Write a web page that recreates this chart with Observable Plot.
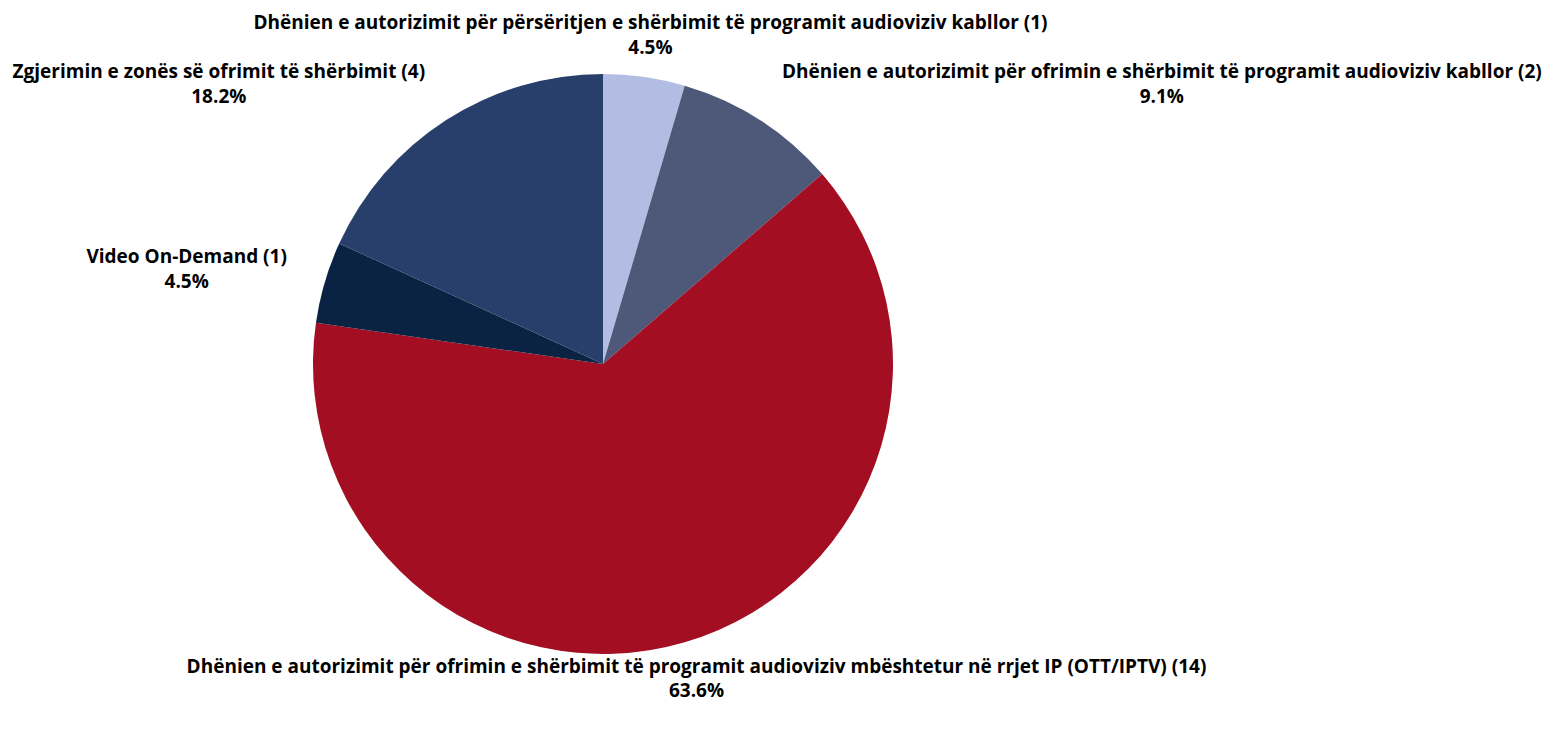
<!DOCTYPE html>
<html><head><meta charset="utf-8">
<script src="https://cdn.jsdelivr.net/npm/d3@7"></script>
<script src="https://cdn.jsdelivr.net/npm/@observablehq/plot@0.6"></script>
<style>html,body{margin:0;padding:0;background:#fff;overflow:hidden}</style>
</head><body><div id="chart"></div>
<script>
const categories = [
  "Dhënien e autorizimit për përsëritjen e shërbimit të programit audioviziv kabllor",
  "Dhënien e autorizimit për ofrimin e shërbimit të programit audioviziv kabllor",
  "Dhënien e autorizimit për ofrimin e shërbimit të programit audioviziv mbështetur në rrjet IP (OTT/IPTV)",
  "Video On-Demand",
  "Zgjerimin e zonës së ofrimit të shërbimit"
];
const counts = [1, 2, 14, 1, 4];
const percentLabels = ["4.5%", "9.1%", "63.6%", "4.5%", "18.2%"];
const colors = ["#b3bde3", "#4e5878", "#a30e22", "#0a2342", "#283f6b"];

const W = 1555, H = 738, cx = 603, cy = 364, R = 290, labelR = 330;
const FONT_FAMILY = "'Open Sans', Lato, sans-serif";
const FONT_SIZE = 19, FONT_WEIGHT = 700;

const data = categories.map((c, i) => ({category: c, count: counts[i], pct: percentLabels[i], color: colors[i]}));
const arcs = d3.pie().sort(null).value(d => d.count)(data);
const arcGen = d3.arc().innerRadius(0).outerRadius(R);

const ctx = document.createElement("canvas").getContext("2d");
ctx.font = `${FONT_WEIGHT} ${FONT_SIZE}px ${FONT_FAMILY}`;

const labels = arcs.map(a => {
  const mid = (a.startAngle + a.endAngle) / 2;
  const s = Math.sin(mid), c = Math.cos(mid);
  const lines = [`${a.data.category} (${a.data.count})`, a.data.pct];
  const w = Math.max(...lines.map(l => ctx.measureText(l).width));
  const ax = cx + labelR * s;
  const anchor = s > 0.3 ? "start" : s < -0.3 ? "end" : "middle";
  return {
    x: anchor === "start" ? ax + w / 2 : anchor === "end" ? ax - w / 2 : ax,
    y: cy - labelR * c,
    text: lines.join("\n")
  };
});

function pieMark(index, scales, values, dimensions, context) {
  const g = d3.create("svg:g").attr("transform", `translate(${scales.x(cx)},${scales.y(cy)})`);
  g.selectAll("path").data(arcs).join("path")
    .attr("d", arcGen)
    .attr("fill", d => d.data.color);
  return g.node();
}

const chart = Plot.plot({
  width: W, height: H,
  margin: 0,
  x: {type: "identity", axis: null},
  y: {type: "identity", axis: null},
  style: {fontFamily: FONT_FAMILY, background: "#fff"},
  marks: [
    pieMark,
    Plot.text(labels, {
      x: "x", y: "y", dy: -4, text: "text", textAnchor: "middle", lineAnchor: "middle",
      lineHeight: 1.3, fontSize: FONT_SIZE, fontWeight: FONT_WEIGHT, fill: "#000"
    })
  ]
});
document.getElementById("chart").appendChild(chart);
</script>
</body></html>
